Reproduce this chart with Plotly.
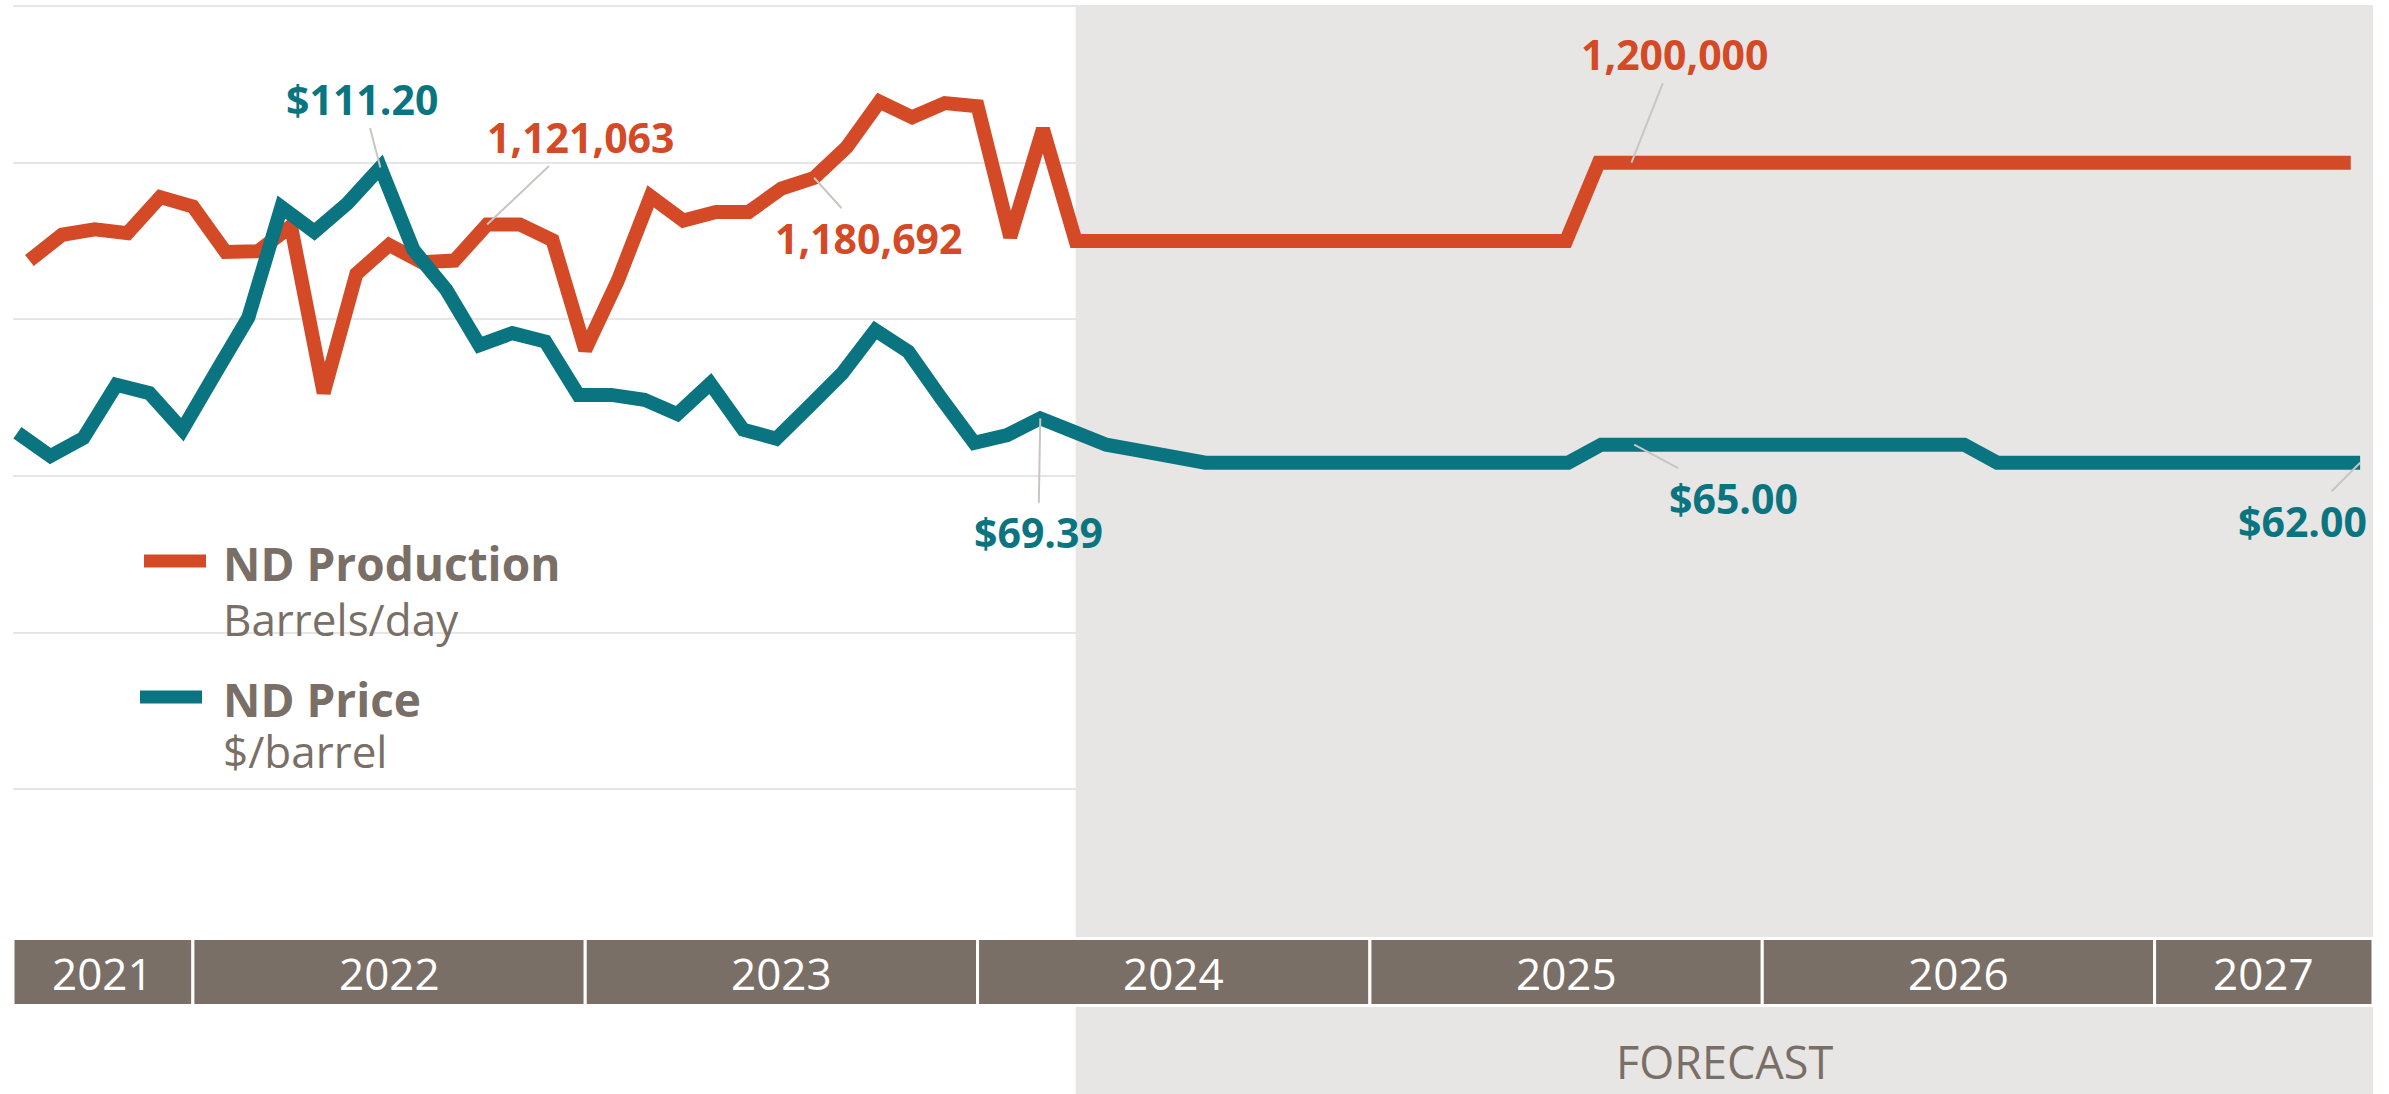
import plotly.graph_objects as go

# ---------------- data ----------------
months = []
_mn = ["Jan", "Feb", "Mar", "Apr", "May", "Jun", "Jul", "Aug", "Sep", "Oct", "Nov", "Dec"]
for y in range(2021, 2028):
    for m in _mn:
        months.append(f"{m} {y}")
months = months[months.index("Aug 2021"): months.index("Jul 2027") + 1]

production = [
    1075000, 1108000, 1115000, 1110000, 1156000, 1144000, 1086000, 1087000,
    1119000, 906000, 1058000, 1095000, 1073000, 1075000, 1121063, 1121000,
    1101000, 961000, 1050000, 1157000, 1126000, 1137000, 1137000, 1167000,
    1180692, 1220000, 1278000, 1258000, 1276000, 1272000, 1105000, 1243000,
] + [1100000] * 16 + [1200000] * 24

price = [
    67.0, 63.1, 66.1, 75.0, 73.6, 67.5, 76.9, 86.2,
    104.6, 100.5, 105.2, 111.20, 97.5, 90.8, 81.6, 83.6,
    82.2, 73.3, 73.3, 72.5, 70.1, 75.2, 67.5, 66.0,
    71.4, 76.9, 84.1, 80.5, 72.7, 65.3, 66.6, 69.39,
    67.2, 65.0, 64.0, 63.0,
] + [62.0] * 12 + [65.0] * 12 + [62.0] * 12

years = ["2021", "2022", "2023", "2024", "2025", "2026", "2027"]
forecast_start = "Apr 2024"

# labelled points: (series, month, text, ax, ay)
labels = [
    ("price", "Jul 2022", "$111.20", -18, -69),
    ("production", "Oct 2022", "1,121,063", 93, -88),
    ("production", "Aug 2023", "1,180,692", 54, 60),
    ("price", "Mar 2024", "$69.39", -2, 114),
    ("production", "Sep 2025", "1,200,000", 43, -109),
    ("price", "Sep 2025", "$65.00", 99, 53),
    ("price", "Jul 2027", "$62.00", -58, 58),
]

# ---------------- style ----------------
ORANGE = "#D44A27"
TEAL = "#0A7580"
BROWN = "#7A6F66"
SHADE = "#E8E6E4"
GRID = "#E6E6E6"
LEAD = "#C9C5C1"
FONT = "Open Sans"

idx = list(range(len(months)))
x_range = [-0.502, 71.68]
x2_range = [-0.133, 71.39]

fig = go.Figure()
fig.add_trace(go.Scatter(x=idx, y=production, mode="lines", name="ND Production",
                         line=dict(color=ORANGE, width=14), hoverinfo="skip",
                         xaxis="x", yaxis="y"))
fig.add_trace(go.Scatter(x=idx, y=price, mode="lines", name="ND Price",
                         line=dict(color=TEAL, width=14), hoverinfo="skip",
                         xaxis="x2", yaxis="y2"))

W, H = 2389, 1094
ml, mr, mt, mb = 13, 16, 4, 148
ph = H - mt - mb


def py2paper(py):
    return (H - mb - py) / ph


fig.update_layout(
    width=W, height=H,
    margin=dict(l=ml, r=mr, t=mt, b=mb, pad=0),
    paper_bgcolor="white", plot_bgcolor="white",
    showlegend=False,
    font=dict(family=FONT, color=BROWN),
    xaxis=dict(range=x_range, visible=False, showgrid=False, zeroline=False),
    xaxis2=dict(range=x2_range, visible=False, showgrid=False, zeroline=False,
                overlaying="x", anchor="y2"),
    yaxis=dict(range=[200000, 1402553], dtick=200000, tick0=0, showgrid=True,
               gridcolor=GRID, gridwidth=2, zeroline=False, showticklabels=False,
               ticks="", showline=False),
    yaxis2=dict(range=[-18.55, 138.45], showgrid=False, zeroline=False,
                showticklabels=False, ticks="", overlaying="y", anchor="x2"),
)

shapes = []
fi = months.index(forecast_start)
# forecast shading (inside plot covers grid; below plot extends to page bottom)
shapes.append(dict(type="rect", xref="x", yref="paper", x0=fi, x1=x_range[1],
                   y0=0, y1=py2paper(5), fillcolor=SHADE, line=dict(width=0), layer="between"))
shapes.append(dict(type="rect", xref="x", yref="paper", x0=fi, x1=x_range[1],
                   y0=py2paper(H), y1=0.0, fillcolor=SHADE, line=dict(width=0), layer="below"))

# year band
band_top, band_bot = py2paper(938.5), py2paper(1005.5)
annotations = []
for k, yr in enumerate(years):
    starts = [i for i, m in enumerate(months) if m.endswith(yr)]
    x0 = max(starts[0], x_range[0]) if k > 0 else x_range[0]
    x1 = starts[-1] + 1 if k < len(years) - 1 else x_range[1]
    shapes.append(dict(type="rect", xref="x", yref="paper", x0=x0, x1=x1,
                       y0=band_bot, y1=band_top, fillcolor=BROWN,
                       line=dict(color="white", width=3), layer="above"))
    annotations.append(dict(x=(x0 + x1) / 2, y=py2paper(973), xref="x", yref="paper",
                            text=yr, showarrow=False, xanchor="center", yanchor="middle",
                            font=dict(family=FONT, size=44, color="white")))

annotations.append(dict(x=(fi + x_range[1]) / 2, y=py2paper(1061), xref="x", yref="paper",
                        text="FORECAST", showarrow=False, xanchor="center", yanchor="middle",
                        font=dict(family=FONT, size=45, color=BROWN)))

# custom legend
def px2x(px):
    return (px - ml) / (W - ml - mr)


shapes.append(dict(type="line", xref="paper", yref="paper", x0=px2x(144), x1=px2x(206),
                   y0=py2paper(561), y1=py2paper(561), line=dict(color=ORANGE, width=13)))
shapes.append(dict(type="line", xref="paper", yref="paper", x0=px2x(140), x1=px2x(202),
                   y0=py2paper(697), y1=py2paper(697), line=dict(color=TEAL, width=13)))
legend_text = [
    ("<b>ND Production</b>", 563, 46),
    ("Barrels/day", 619, 44),
    ("<b>ND Price</b>", 699, 46),
    ("$/barrel", 751, 44),
]
for t, yy, fs in legend_text:
    annotations.append(dict(x=px2x(221), y=py2paper(yy), xref="paper", yref="paper",
                            text=t, showarrow=False, xanchor="left", yanchor="middle",
                            font=dict(family=FONT, size=fs, color=BROWN)))

# data labels with leader lines
for series, m, text, ax, ay in labels:
    i = months.index(m)
    if series == "price":
        xv, yv, xr, yr_, col = i, price[i], "x2", "y2", TEAL
    else:
        xv, yv, xr, yr_, col = i, production[i], "x", "y", ORANGE
    annotations.append(dict(x=xv, y=yv, xref=xr, yref=yr_, text=f"<b>{text}</b>",
                            showarrow=True, arrowhead=0, arrowwidth=2, arrowcolor=LEAD,
                            ax=ax, ay=ay, standoff=0, xanchor="center", yanchor="middle",
                            font=dict(family=FONT, size=41, color=col)))

fig.update_layout(shapes=shapes, annotations=annotations)
fig.write_html("out.html", config={"displayModeBar": False},
               post_script="document.body.style.margin='0';document.body.style.padding='0';")
